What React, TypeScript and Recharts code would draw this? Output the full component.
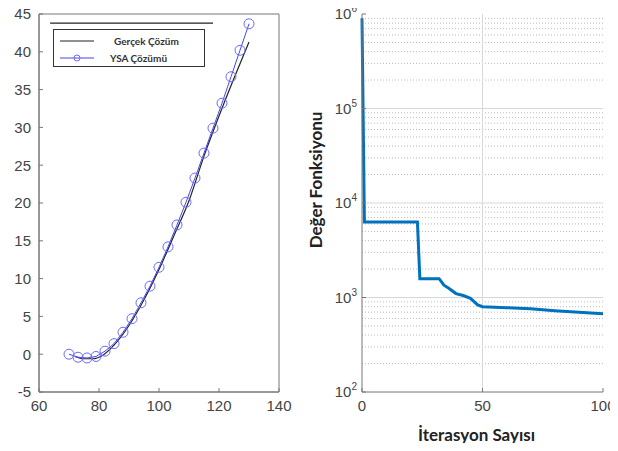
import {
  ComposedChart,
  LineChart,
  Line,
  XAxis,
  YAxis,
  Legend,
  ReferenceLine,
  ReferenceArea,
} from 'recharts'

// left panel: exact vs ANN solution
const ysaX = [70, 73, 76, 79, 82, 85, 88, 91, 94, 97, 100, 103, 106, 109, 112, 115, 118, 121, 124, 127, 130]
const ysaY = [0, -0.4, -0.5, -0.3, 0.4, 1.4, 2.9, 4.7, 6.8, 9.0, 11.5, 14.2, 17.1, 20.1, 23.3, 26.6, 29.9, 33.2, 36.7, 40.2, 43.7]

const gercekX = [72, 75, 78, 81, 85, 90, 95, 100, 105, 110, 115, 120, 125, 130]
const gercekY = [-0.3, -0.6, -0.6, -0.2, 1.2, 3.8, 7.2, 11.2, 15.7, 20.3, 26.2, 31.5, 36.5, 41.3]

const leftXTicks = [60, 80, 100, 120, 140]
const leftYTicks = [-5, 0, 5, 10, 15, 20, 25, 30, 35, 40, 45]

// stray horizontal rule above the legend in the original figure
const topRule = { y: 43.8, x1: 63.7, x2: 118 }

// right panel: cost function per iteration
const iterasyon = [0, 1, 23, 24, 32, 34, 36, 39, 42, 45, 48, 50, 55, 60, 70, 80, 90, 100]
const deger = [900000, 6300, 6300, 1580, 1580, 1350, 1250, 1100, 1050, 980, 835, 800, 790, 780, 760, 725, 700, 675]

const rightXTicks = [0, 50, 100]
const rightYTicks = [100, 1000, 10000, 100000, 1000000]
const minorMult = [2, 3, 4, 5, 6, 7, 8, 9]

const ysaData = ysaX.map((x, i) => ({ x, ysa: ysaY[i] }))
const gercekData = gercekX.map((x, i) => ({ x, gercek: gercekY[i] }))
const costData = iterasyon.map((it, i) => ({ it, v: deger[i] }))
const minorValues = rightYTicks.slice(0, -1).flatMap((d) => minorMult.map((m) => d * m))

const tickFont = { fill: '#444', fontSize: 15, fontFamily: 'Liberation Sans' }
const axisColor = '#777'

function LeftLegend() {
  return (
    <div
      style={{
        width: 152,
        height: 38,
        border: '1.5px solid #333',
        background: '#fff',
        fontFamily: 'Lato',
        fontWeight: 700,
        fontSize: 10,
        color: '#333',
        boxSizing: 'border-box',
      }}
    >
      <div style={{ display: 'flex', alignItems: 'center', height: 19, paddingTop: 1 }}>
        <svg width={50} height={10} style={{ marginLeft: 6 }}>
          <line x1={0} y1={5} x2={34} y2={5} stroke="#222" strokeWidth={1.2} />
        </svg>
        <span style={{ marginLeft: 4 }}>Gerçek Çözüm</span>
      </div>
      <div style={{ display: 'flex', alignItems: 'center', height: 16 }}>
        <svg width={46} height={10} style={{ marginLeft: 6 }}>
          <line x1={0} y1={5} x2={34} y2={5} stroke="#4646f0" strokeWidth={1} />
          <circle cx={17} cy={5} r={3} fill="none" stroke="#6b6bff" />
        </svg>
        <span style={{ marginLeft: 4 }}>YSA Çözümü</span>
      </div>
    </div>
  )
}

function PowTick(props: any) {
  const { x, y, payload } = props
  const exp = Math.round(Math.log10(payload.value))
  return (
    <text x={x} y={y} dy="0.35em" textAnchor="end" fill="#444" fontSize={15} fontFamily="Liberation Sans">
      <tspan>10</tspan>
      <tspan dy={-7} fontSize={10}>{exp}</tspan>
    </text>
  )
}

function NoTick() {
  return <g />
}

function YTitle(props: any) {
  const { viewBox } = props
  const cx = viewBox.x + 25
  const cy = viewBox.y + viewBox.height / 2 - 23
  return (
    <text
      x={cx}
      y={cy}
      transform={`rotate(-90 ${cx} ${cy})`}
      textAnchor="middle"
      dominantBaseline="central"
      fill="#222"
      fontSize={17}
      fontWeight={700}
      fontFamily="Lato"
    >
      Değer Fonksiyonu
    </text>
  )
}

function XTitle(props: any) {
  const { viewBox } = props
  const cx = viewBox.x + viewBox.width / 2 - 6
  return (
    <text
      x={cx}
      y={434}
      textAnchor="middle"
      dominantBaseline="central"
      fill="#222"
      fontSize={17}
      fontWeight={700}
      fontFamily="Lato"
    >
      İterasyon Sayısı
    </text>
  )
}

export default function App() {
  return (
    <div style={{ position: 'relative', width: 618, height: 451, margin: -8, background: '#fff' }}>
      <style>{'.recharts-surface { overflow: visible; }'}</style>
      <div style={{ position: 'absolute', left: 0, top: 0 }}>
        <ComposedChart width={300} height={451} margin={{ top: 14, right: 21, bottom: 29, left: 0 }}>
          <XAxis
            dataKey="x"
            type="number"
            domain={[60, 140]}
            ticks={leftXTicks}
            height={30}
            stroke={axisColor}
            tickSize={-4}
            tickMargin={12}
            tick={tickFont}
            allowDataOverflow
          />
          <XAxis
            xAxisId="top"
            orientation="top"
            dataKey="x"
            type="number"
            domain={[60, 140]}
            ticks={leftXTicks}
            height={0}
            stroke={axisColor}
            tickSize={-4}
            tick={<NoTick />}
            allowDataOverflow
          />
          <YAxis
            type="number"
            domain={[-5, 45]}
            ticks={leftYTicks}
            width={39}
            stroke={axisColor}
            tickSize={-4}
            tickMargin={12}
            tick={tickFont}
            allowDataOverflow
          />
          <YAxis
            yAxisId="right"
            orientation="right"
            type="number"
            domain={[-5, 45]}
            ticks={leftYTicks}
            width={0}
            stroke={axisColor}
            tickSize={-4}
            tick={<NoTick />}
            allowDataOverflow
          />
          <ReferenceArea x1={60} x2={140} y1={-5} y2={45} fill="none" stroke={axisColor} strokeWidth={1} />
          <ReferenceLine
            segment={[
              { x: topRule.x1, y: topRule.y },
              { x: topRule.x2, y: topRule.y },
            ]}
            stroke="#222"
            strokeWidth={1.2}
          />
          <Line
            data={gercekData}
            dataKey="gercek"
            type="monotone"
            stroke="#222"
            strokeWidth={1.2}
            dot={false}
            isAnimationActive={false}
          />
          <Line
            data={ysaData}
            dataKey="ysa"
            type="linear"
            stroke="#4646f0"
            strokeWidth={1}
            dot={{ r: 5, fill: 'none', stroke: '#6b6bff', strokeWidth: 1 }}
            isAnimationActive={false}
          />
          <Legend
            layout="vertical"
            align="center"
            verticalAlign="middle"
            content={<LeftLegend />}
            wrapperStyle={{ top: 29, left: 53, width: 152, height: 38 }}
          />
        </ComposedChart>
      </div>
      <div style={{ position: 'absolute', left: 290, top: 0 }}>
        <LineChart width={328} height={451} data={costData} margin={{ top: 14, right: 15, bottom: 0, left: 0 }}>
          <XAxis
            dataKey="it"
            type="number"
            domain={[0, 100]}
            ticks={rightXTicks}
            height={59}
            stroke={axisColor}
            tickSize={-4}
            tickMargin={12}
            tick={tickFont}
            label={<XTitle />}
          />
          <XAxis
            xAxisId="top"
            orientation="top"
            dataKey="it"
            type="number"
            domain={[0, 100]}
            ticks={rightXTicks}
            height={0}
            stroke={axisColor}
            tickSize={-4}
            tick={<NoTick />}
          />
          <YAxis
            type="number"
            scale="log"
            domain={[100, 1000000]}
            ticks={rightYTicks}
            width={72}
            stroke={axisColor}
            tickSize={-4}
            tickMargin={9}
            tick={<PowTick />}
            label={<YTitle />}
            allowDataOverflow
          />
          <YAxis
            yAxisId="right"
            orientation="right"
            type="number"
            scale="log"
            domain={[100, 1000000]}
            ticks={rightYTicks}
            width={0}
            stroke={axisColor}
            tickSize={-4}
            tick={<NoTick />}
            allowDataOverflow
          />
          {minorValues.map((v) => (
            <ReferenceLine key={v} y={v} stroke="#bbb" strokeWidth={1} strokeDasharray="1 2" />
          ))}
          {rightYTicks.slice(1, -1).map((v) => (
            <ReferenceLine key={'M' + v} y={v} stroke="#d8d8d8" strokeWidth={1} />
          ))}
          <ReferenceLine x={50} stroke="#d8d8d8" strokeWidth={1} />
          <Line
            dataKey="v"
            type="linear"
            stroke="#0072BD"
            strokeWidth={3}
            dot={false}
            isAnimationActive={false}
          />
        </LineChart>
      </div>
    </div>
  )
}
